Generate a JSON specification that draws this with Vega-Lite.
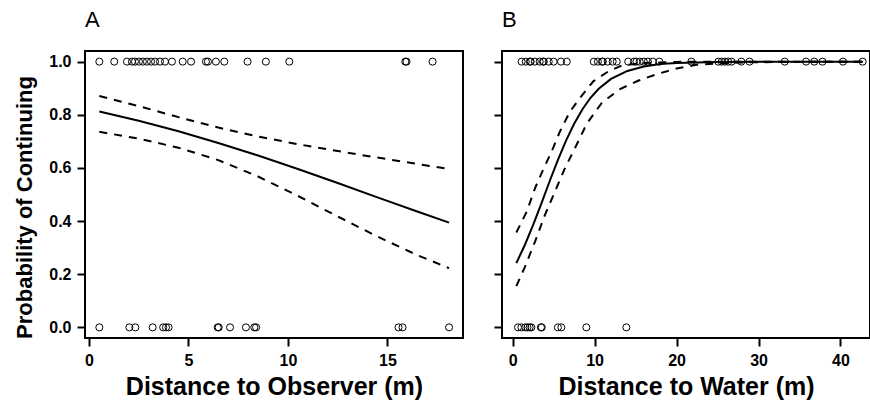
{
 "$schema": "https://vega.github.io/schema/vega-lite/v6.json",
 "padding": {"left": 12, "top": 8, "right": 0, "bottom": 0},
 "background": "white",
 "config": {
   "font": "Liberation Sans",
   "view": {"stroke": "black", "strokeWidth": 2},
   "axis": {"domain": false, "grid": false, "tickColor": "black", "tickWidth": 2, "tickSize": 8, "labelFont": "Liberation Sans", "labelFontWeight": "bold", "labelFontSize": 16, "labelColor": "black", "labelPadding": 6, "titleFont": "Liberation Sans", "titleFontWeight": "bold", "titleFontSize": 25, "titleColor": "black", "titlePadding": 6},
   "concat": {"spacing": 28},
   "title": {"font": "Liberation Sans", "fontSize": 22, "fontWeight": "normal", "anchor": "start", "frame": "group", "color": "black"}
 },
 "datasets": {
   "pointsA": [
     {"distance": 0.52, "probability": 1}, {"distance": 1.27, "probability": 1}, {"distance": 1.91, "probability": 1}, {"distance": 2.16, "probability": 1}, {"distance": 2.31, "probability": 1}, {"distance": 2.51, "probability": 1}, {"distance": 2.71, "probability": 1}, {"distance": 2.91, "probability": 1}, {"distance": 3.12, "probability": 1}, {"distance": 3.32, "probability": 1}, {"distance": 3.57, "probability": 1}, {"distance": 3.82, "probability": 1}, {"distance": 4.17, "probability": 1}, {"distance": 4.71, "probability": 1}, {"distance": 5.13, "probability": 1}, {"distance": 5.88, "probability": 1}, {"distance": 5.98, "probability": 1}, {"distance": 6.38, "probability": 1}, {"distance": 6.8, "probability": 1}, {"distance": 7.97, "probability": 1}, {"distance": 8.89, "probability": 1}, {"distance": 10.07, "probability": 1}, {"distance": 15.9, "probability": 1}, {"distance": 15.96, "probability": 1}, {"distance": 17.27, "probability": 1},
     {"distance": 0.52, "probability": 0}, {"distance": 2.03, "probability": 0}, {"distance": 2.33, "probability": 0}, {"distance": 3.2, "probability": 0}, {"distance": 3.73, "probability": 0}, {"distance": 3.87, "probability": 0}, {"distance": 4.0, "probability": 0}, {"distance": 6.47, "probability": 0}, {"distance": 6.52, "probability": 0}, {"distance": 7.09, "probability": 0}, {"distance": 7.89, "probability": 0}, {"distance": 8.31, "probability": 0}, {"distance": 8.4, "probability": 0}, {"distance": 15.56, "probability": 0}, {"distance": 15.76, "probability": 0}, {"distance": 18.1, "probability": 0}
   ],
   "curvesA": [
     {"band": "fit", "distance": 0.52, "probability": 0.8123}, {"band": "fit", "distance": 2.5, "probability": 0.7773}, {"band": "fit", "distance": 4.5, "probability": 0.7377}, {"band": "fit", "distance": 6.5, "probability": 0.694}, {"band": "fit", "distance": 8.5, "probability": 0.6465}, {"band": "fit", "distance": 10.5, "probability": 0.5958}, {"band": "fit", "distance": 12.5, "probability": 0.5431}, {"band": "fit", "distance": 14.5, "probability": 0.4893}, {"band": "fit", "distance": 16.5, "probability": 0.4358}, {"band": "fit", "distance": 18.1, "probability": 0.394},
     {"band": "upper", "distance": 0.52, "probability": 0.8705}, {"band": "upper", "distance": 2.5, "probability": 0.8326}, {"band": "upper", "distance": 4.5, "probability": 0.7911}, {"band": "upper", "distance": 6.5, "probability": 0.7518}, {"band": "upper", "distance": 8.5, "probability": 0.7181}, {"band": "upper", "distance": 10.5, "probability": 0.6894}, {"band": "upper", "distance": 12.5, "probability": 0.6635}, {"band": "upper", "distance": 14.5, "probability": 0.6389}, {"band": "upper", "distance": 16.5, "probability": 0.615}, {"band": "upper", "distance": 18.1, "probability": 0.5959},
     {"band": "lower", "distance": 0.52, "probability": 0.736}, {"band": "lower", "distance": 2.5, "probability": 0.7101}, {"band": "lower", "distance": 4.5, "probability": 0.6761}, {"band": "lower", "distance": 6.5, "probability": 0.6295}, {"band": "lower", "distance": 8.5, "probability": 0.5676}, {"band": "lower", "distance": 10.5, "probability": 0.4947}, {"band": "lower", "distance": 12.5, "probability": 0.4174}, {"band": "lower", "distance": 14.5, "probability": 0.3416}, {"band": "lower", "distance": 16.5, "probability": 0.272}, {"band": "lower", "distance": 18.1, "probability": 0.2228}
   ],
   "pointsB": [
     {"distance": 1.1, "probability": 1}, {"distance": 1.6, "probability": 1}, {"distance": 2.1, "probability": 1}, {"distance": 2.2, "probability": 1}, {"distance": 2.7, "probability": 1}, {"distance": 3.3, "probability": 1}, {"distance": 3.7, "probability": 1}, {"distance": 3.8, "probability": 1}, {"distance": 4.4, "probability": 1}, {"distance": 5.0, "probability": 1}, {"distance": 5.9, "probability": 1}, {"distance": 6.6, "probability": 1}, {"distance": 9.9, "probability": 1}, {"distance": 10.4, "probability": 1}, {"distance": 10.9, "probability": 1}, {"distance": 11.0, "probability": 1}, {"distance": 11.6, "probability": 1}, {"distance": 12.2, "probability": 1}, {"distance": 12.7, "probability": 1}, {"distance": 14.1, "probability": 1}, {"distance": 14.8, "probability": 1}, {"distance": 15.1, "probability": 1}, {"distance": 15.5, "probability": 1}, {"distance": 16.0, "probability": 1}, {"distance": 16.5, "probability": 1}, {"distance": 17.1, "probability": 1}, {"distance": 17.9, "probability": 1}, {"distance": 21.8, "probability": 1}, {"distance": 25.1, "probability": 1}, {"distance": 25.5, "probability": 1}, {"distance": 25.9, "probability": 1}, {"distance": 26.3, "probability": 1}, {"distance": 26.7, "probability": 1}, {"distance": 27.9, "probability": 1}, {"distance": 28.9, "probability": 1}, {"distance": 33.2, "probability": 1}, {"distance": 35.8, "probability": 1}, {"distance": 36.8, "probability": 1}, {"distance": 37.8, "probability": 1}, {"distance": 40.3, "probability": 1}, {"distance": 42.7, "probability": 1},
     {"distance": 0.65, "probability": 0}, {"distance": 1.06, "probability": 0}, {"distance": 1.55, "probability": 0}, {"distance": 1.8, "probability": 0}, {"distance": 2.07, "probability": 0}, {"distance": 2.28, "probability": 0}, {"distance": 3.45, "probability": 0}, {"distance": 3.55, "probability": 0}, {"distance": 5.52, "probability": 0}, {"distance": 5.94, "probability": 0}, {"distance": 8.99, "probability": 0}, {"distance": 13.87, "probability": 0}
   ],
   "curvesB": [
     {"band": "fit", "distance": 0.45, "probability": 0.242}, {"band": "fit", "distance": 1.5, "probability": 0.311}, {"band": "fit", "distance": 2.5, "probability": 0.386}, {"band": "fit", "distance": 3.5, "probability": 0.466}, {"band": "fit", "distance": 4.5, "probability": 0.549}, {"band": "fit", "distance": 5.5, "probability": 0.628}, {"band": "fit", "distance": 6.5, "probability": 0.702}, {"band": "fit", "distance": 7.5, "probability": 0.766}, {"band": "fit", "distance": 8.5, "probability": 0.82}, {"band": "fit", "distance": 9.5, "probability": 0.864}, {"band": "fit", "distance": 10.5, "probability": 0.898}, {"band": "fit", "distance": 12, "probability": 0.935}, {"band": "fit", "distance": 14, "probability": 0.965}, {"band": "fit", "distance": 16, "probability": 0.982}, {"band": "fit", "distance": 18, "probability": 0.991}, {"band": "fit", "distance": 20, "probability": 0.995}, {"band": "fit", "distance": 25, "probability": 0.999}, {"band": "fit", "distance": 30, "probability": 1.0}, {"band": "fit", "distance": 42.7, "probability": 1.0},
     {"band": "upper", "distance": 0.45, "probability": 0.357}, {"band": "upper", "distance": 1.71, "probability": 0.435}, {"band": "upper", "distance": 2.72, "probability": 0.523}, {"band": "upper", "distance": 3.74, "probability": 0.595}, {"band": "upper", "distance": 4.76, "probability": 0.662}, {"band": "upper", "distance": 5.77, "probability": 0.737}, {"band": "upper", "distance": 6.99, "probability": 0.812}, {"band": "upper", "distance": 8.21, "probability": 0.863}, {"band": "upper", "distance": 9.84, "probability": 0.926}, {"band": "upper", "distance": 11.67, "probability": 0.963}, {"band": "upper", "distance": 13.3, "probability": 0.985}, {"band": "upper", "distance": 15.7, "probability": 0.995}, {"band": "upper", "distance": 20, "probability": 0.999}, {"band": "upper", "distance": 25, "probability": 1.0}, {"band": "upper", "distance": 42.7, "probability": 1.0},
     {"band": "lower", "distance": 0.45, "probability": 0.155}, {"band": "lower", "distance": 1.5, "probability": 0.228}, {"band": "lower", "distance": 2.72, "probability": 0.322}, {"band": "lower", "distance": 3.94, "probability": 0.423}, {"band": "lower", "distance": 5.16, "probability": 0.511}, {"band": "lower", "distance": 6.38, "probability": 0.599}, {"band": "lower", "distance": 7.8, "probability": 0.687}, {"band": "lower", "distance": 9.02, "probability": 0.765}, {"band": "lower", "distance": 10.85, "probability": 0.844}, {"band": "lower", "distance": 13.1, "probability": 0.897}, {"band": "lower", "distance": 15.3, "probability": 0.928}, {"band": "lower", "distance": 17.8, "probability": 0.955}, {"band": "lower", "distance": 20, "probability": 0.974}, {"band": "lower", "distance": 22.6, "probability": 0.989}, {"band": "lower", "distance": 26, "probability": 0.995}, {"band": "lower", "distance": 30, "probability": 0.998}, {"band": "lower", "distance": 42.7, "probability": 1.0}
   ]
 },
 "hconcat": [
   {
     "width": 378, "height": 287,
     "title": {"text": "A", "offset": 19},
     "layer": [
       {"data": {"name": "pointsA"},
        "mark": {"type": "point", "shape": "circle", "filled": false, "stroke": "black", "strokeWidth": 1, "size": 50, "opacity": 1},
        "encoding": {
          "x": {"field": "distance", "type": "quantitative", "scale": {"domain": [-0.2, 18.8], "nice": false, "zero": false}, "axis": {"values": [0, 5, 10, 15], "title": "Distance to Observer (m)"}},
          "y": {"field": "probability", "type": "quantitative", "scale": {"domain": [-0.04, 1.04], "nice": false, "zero": false}, "axis": {"values": [0, 0.2, 0.4, 0.6, 0.8, 1], "format": ".1f", "title": "Probability of Continuing", "titleFontSize": 22, "titlePadding": 12, "titleY": 156}}}},
       {"data": {"name": "curvesA"}, "transform": [{"filter": "datum.band == 'fit'"}],
        "mark": {"type": "line", "color": "black", "strokeWidth": 2},
        "encoding": {"x": {"field": "distance", "type": "quantitative"}, "y": {"field": "probability", "type": "quantitative"}}},
       {"data": {"name": "curvesA"}, "transform": [{"filter": "datum.band != 'fit'"}],
        "mark": {"type": "line", "color": "black", "strokeWidth": 2, "strokeDash": [8, 7]},
        "encoding": {"x": {"field": "distance", "type": "quantitative"}, "y": {"field": "probability", "type": "quantitative"}, "detail": {"field": "band"}}}
     ]
   },
   {
     "width": 368, "height": 287,
     "title": {"text": "B", "offset": 19},
     "layer": [
       {"data": {"name": "pointsB"},
        "mark": {"type": "point", "shape": "circle", "filled": false, "stroke": "black", "strokeWidth": 1, "size": 50, "opacity": 1},
        "encoding": {
          "x": {"field": "distance", "type": "quantitative", "scale": {"domain": [-1.3, 43.6], "nice": false, "zero": false}, "axis": {"values": [0, 10, 20, 30, 40], "title": "Distance to Water (m)"}},
          "y": {"field": "probability", "type": "quantitative", "scale": {"domain": [-0.04, 1.04], "nice": false, "zero": false}, "axis": {"values": [0, 0.2, 0.4, 0.6, 0.8, 1], "labels": false, "title": null}}}},
       {"data": {"name": "curvesB"}, "transform": [{"filter": "datum.band == 'fit'"}],
        "mark": {"type": "line", "color": "black", "strokeWidth": 2},
        "encoding": {"x": {"field": "distance", "type": "quantitative"}, "y": {"field": "probability", "type": "quantitative"}}},
       {"data": {"name": "curvesB"}, "transform": [{"filter": "datum.band != 'fit'"}],
        "mark": {"type": "line", "color": "black", "strokeWidth": 2, "strokeDash": [8, 7]},
        "encoding": {"x": {"field": "distance", "type": "quantitative"}, "y": {"field": "probability", "type": "quantitative"}, "detail": {"field": "band"}}}
     ]
   }
 ]
}
